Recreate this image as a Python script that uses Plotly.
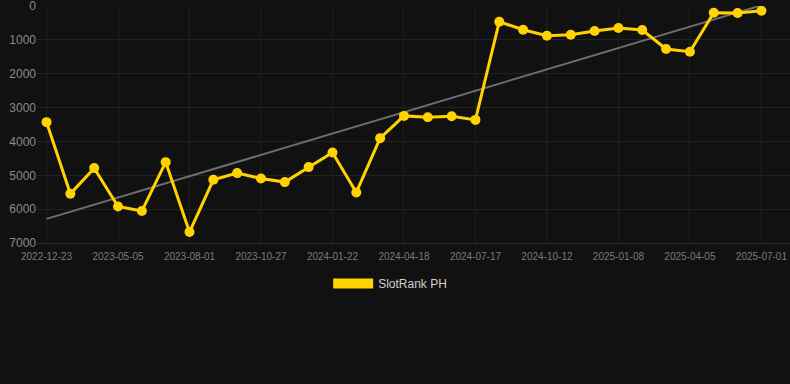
import numpy as np
import plotly.graph_objects as go

dates = [
    "2022-12-23", "2023-02-05", "2023-03-21", "2023-05-05", "2023-06-03", "2023-07-02",
    "2023-08-01", "2023-08-30", "2023-09-28", "2023-10-27", "2023-11-25", "2023-12-24",
    "2024-01-22", "2024-02-20", "2024-03-20", "2024-04-18", "2024-05-18", "2024-06-17",
    "2024-07-17", "2024-08-15", "2024-09-13", "2024-10-12", "2024-11-10", "2024-12-10",
    "2025-01-08", "2025-02-06", "2025-03-07", "2025-04-05", "2025-05-04", "2025-06-02",
    "2025-07-01",
]
rank = [
    3430, 5546, 4788, 5920, 6056, 4611, 6676, 5133, 4935, 5094, 5201, 4758,
    4327, 5507, 3903, 3245, 3284, 3254, 3363, 463, 699, 876, 847, 737,
    649, 708, 1268, 1348, 198, 206, 139,
]
tick_labels = dates[::3]
y_ticks = [0, 1000, 2000, 3000, 4000, 5000, 6000, 7000]
series_name = "SlotRank PH"

idx = np.arange(len(rank))
slope, intercept = np.polyfit(idx, rank, 1)
trend = slope * idx + intercept

gold = "#FFD200"
font_family = "Arial, Liberation Sans, sans-serif"

fig = go.Figure()
fig.add_trace(go.Scatter(
    x=dates, y=trend, mode="lines",
    line=dict(color="#6e6e6e", width=2),
    showlegend=False, hoverinfo="skip",
))
fig.add_trace(go.Scatter(
    x=dates, y=rank, mode="lines+markers",
    line=dict(color=gold, width=3),
    marker=dict(color=gold, size=10),
    name=series_name, showlegend=False,
))
fig.add_trace(go.Scatter(
    x=[None], y=[None], mode="lines",
    line=dict(color=gold, width=10),
    name=series_name, showlegend=True,
))

fig.update_layout(
    width=790, height=384,
    margin=dict(l=37, r=0, t=6, b=141),
    paper_bgcolor="#111111", plot_bgcolor="#111111",
    font=dict(family=font_family, color="#8a8a8a"),
    showlegend=True,
    legend=dict(
        orientation="h", x=0.469, xanchor="center", y=-0.11, yanchor="top",
        font=dict(size=12, color="#d0d0d0", family=font_family),
        bgcolor="rgba(0,0,0,0)", itemwidth=40,
    ),
)
fig.update_xaxes(
    type="category", range=[-0.4, 31.2],
    tickmode="array", tickvals=tick_labels, ticktext=tick_labels,
    tickfont=dict(size=10, color="#7a7a7a"),
    showgrid=True, gridcolor="#1f1f1f", gridwidth=1,
    showline=True, linecolor="#2a2a2a", linewidth=1,
    ticks="outside", ticklen=4, tickcolor="rgba(0,0,0,0)", zeroline=False,
    ticklabeloverflow="allow",
)
fig.update_yaxes(
    range=[7000, -1], tickmode="array", tickvals=y_ticks,
    tickfont=dict(size=12, color="#8a8a8a"),
    showgrid=True, gridcolor="#222222", gridwidth=1,
    zeroline=False, ticks="", showline=False,
    ticklabeloverflow="allow",
)

fig.write_html("out.html", config={"displayModeBar": False})
with open("out.html", "r", encoding="utf-8") as f:
    html = f.read()
html = html.replace("<head>", "<head><style>html,body{margin:0;padding:0;background:#111111;}</style>", 1)
with open("out.html", "w", encoding="utf-8") as f:
    f.write(html)
